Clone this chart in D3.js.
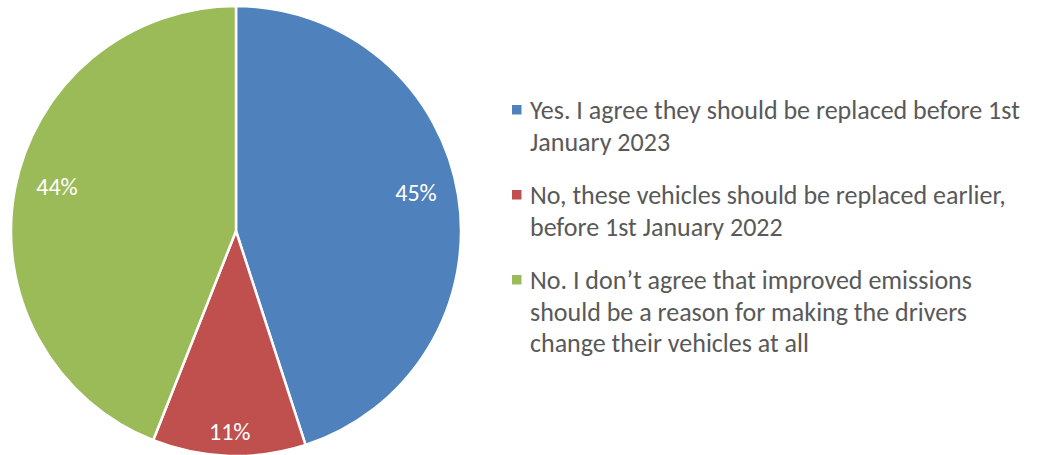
<!DOCTYPE html>
<html>
<head>
<meta charset="utf-8">
<script src="https://cdn.jsdelivr.net/npm/d3@7"></script>
<style>
  html, body { margin: 0; padding: 0; background: #fff; }
  svg { display: block; }
  text { font-family: Carlito, Calibri, "Open Sans", sans-serif; }
</style>
</head>
<body>
<svg id="chart" width="1045" height="455"></svg>
<script>
// Survey answers: share of respondents per option
const categories = [
  "Yes. I agree they should be replaced before 1st\nJanuary 2023",
  "No, these vehicles should be replaced earlier,\nbefore 1st January 2022",
  "No. I don\u2019t agree that improved emissions\nshould be a reason for making the drivers\nchange their vehicles at all"
];
const values = [45, 11, 44];
const valueLabels = ["45%", "11%", "44%"];
const colors = ["#4F81BD", "#C0504D", "#9BBB59"];

const svg = d3.select("#chart");
const cx = 236, cy = 231, radius = 225;

const pie = d3.pie().sort(null).value(d => d)(values);
const arc = d3.arc().innerRadius(0).outerRadius(radius);

const g = svg.append("g").attr("transform", `translate(${cx},${cy})`);

g.selectAll("path.slice")
  .data(pie)
  .join("path")
  .attr("class", "slice")
  .attr("d", arc)
  .attr("fill", (d, i) => colors[i])
  .attr("stroke", "#fff")
  .attr("stroke-width", 2.5)
  .attr("stroke-linejoin", "round");

// Value labels placed inside each slice; narrow slices sit closer to the rim
const labelArc = d => {
  const span = d.endAngle - d.startAngle;
  const r = span < 1 ? radius * 0.89 : radius * 0.81;
  return d3.arc().innerRadius(r).outerRadius(r);
};
g.selectAll("text.value")
  .data(pie)
  .join("text")
  .attr("class", "value")
  .attr("transform", d => {
    const [x, y] = labelArc(d).centroid(d);
    const span = d.endAngle - d.startAngle;
    return `translate(${x},${span < 1 ? y : y - 10})`;
  })
  .attr("text-anchor", "middle")
  .attr("dominant-baseline", "central")
  .attr("fill", "#fff")
  .attr("font-size", 24)
  .text((d, i) => valueLabels[i]);

// Legend
const legendX = 512, textX = 530;
const lineH = 31.7, itemGap = 21.6;
const legend = svg.append("g");
let y = 119;
categories.forEach((cat, i) => {
  const lines = cat.split("\n");
  legend.append("rect")
    .attr("x", legendX).attr("y", y - 14)
    .attr("width", 9.5).attr("height", 9.5)
    .attr("fill", colors[i]);
  const t = legend.append("text")
    .attr("x", textX).attr("y", y)
    .attr("fill", "#595959")
    .attr("font-size", 26);
  lines.forEach((ln, j) => {
    t.append("tspan").attr("x", textX).attr("y", y + j * lineH).text(ln);
  });
  y += lines.length * lineH + itemGap;
});
</script>
</body>
</html>
